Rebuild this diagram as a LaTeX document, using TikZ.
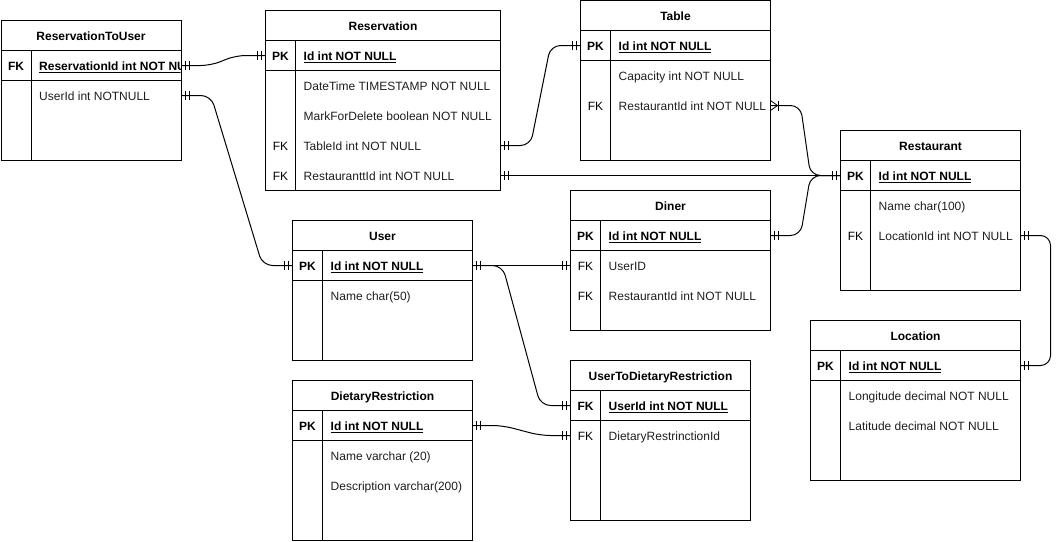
\documentclass[tikz,border=0pt]{standalone}
\usepackage{fontspec}
\setmainfont{Liberation Sans}
\usetikzlibrary{decorations.markings}
\tikzset{
  ln/.style={line width=1pt, black},
  frame/.style={draw, line width=1pt, inner sep=0pt, outer sep=0pt, anchor=north west},
  cell/.style={inner sep=0pt, outer sep=0pt, minimum height=30pt, anchor=north west},
  hdrtxt/.style={font=\fontsize{12}{14}\selectfont\bfseries, anchor=base, inner sep=0pt},
  keybold/.style={font=\fontsize{12}{14}\selectfont\bfseries, anchor=base, inner sep=0pt},
  keyplain/.style={font=\fontsize{12}{14}\selectfont, anchor=base, inner sep=0pt},
  fldbold/.style={font=\fontsize{12}{14}\selectfont\bfseries, anchor=base west, inner sep=0pt},
  fldplain/.style={font=\fontsize{12}{14}\selectfont, anchor=base west, inner sep=0pt, text=black!88},
  conn/.style={line width=1pt, rounded corners=10pt},
  onebar/.style={line width=1pt, sharp corners},
  startone/.style={postaction={decorate, decoration={markings,
      mark=at position 4pt with {\draw[onebar] (0,-4.5pt) -- (0,4.5pt);},
      mark=at position 8pt with {\draw[onebar] (0,-4.5pt) -- (0,4.5pt);}}}},
  endone/.style={postaction={decorate, decoration={markings,
      mark=at position -4pt with {\draw[onebar] (0,-4.5pt) -- (0,4.5pt);},
      mark=at position -8pt with {\draw[onebar] (0,-4.5pt) -- (0,4.5pt);}}}},
  startmany/.style={postaction={decorate, decoration={markings,
      mark=at position 1pt with {\draw[onebar, line width=0.8pt] (-1pt,5pt) -- (6pt,0pt) -- (-1pt,-5pt);},
      mark=at position 8pt with {\draw[onebar] (0,-5pt) -- (0,5pt);}}}},
}
% table frame: name, x, y, w, h, title
\newcommand\ertable[6]{%
  \node[frame, minimum width=#4, minimum height=#5] (#1) at (#2,#3) {};
  \draw[ln] (#2,#3+30) -- ++(#4,0) (#2,#3+60) -- ++(#4,0) (#2+30,#3+30) -- (#2+30,#3+#5);
  \node[hdrtxt] (#1-title) at (#2+#4/2,#3+20) {#6};
}
% key row: name, x, ytop, w, key, text
\newcommand\keyrow[6]{%
  \node[cell, minimum width=#4] (#1) at (#2,#3) {};
  \node[keybold] (#1-k) at (#2+15,#3+20) {#5};
  \node[fldbold] (#1-t) at (#2+38,#3+20) {\underline{#6}};
}
% plain row: name, x, ytop, w, key, text
\newcommand\plainrow[6]{%
  \node[cell, minimum width=#4] (#1) at (#2,#3) {};
  \node[keyplain] (#1-k) at (#2+15,#3+20) {#5};
  \node[fldplain] (#1-t) at (#2+38,#3+20) {#6};
}
\newcommand\erlink[3]{%
  \draw[conn, #3] (#1.east) -- ++(30,0) -- ([xshift=-30pt]#2.west) -- (#2.west);
}
\begin{document}
\begin{tikzpicture}[x=1pt, y=-1pt]
\useasboundingbox[fill=white] (0,0) rectangle (1060,541);

% ReservationToUser
\ertable{rtu}{1}{20.5}{180}{140}{ReservationToUser}
\begin{scope}
  \clip (1,50.5) rectangle (180.5,80.5);
  \keyrow{rturesid}{1}{50.5}{180}{FK}{ReservationId int NOT NULL}
\end{scope}
\plainrow{rtuuserid}{1}{80.5}{180}{}{UserId int NOTNULL}

% Reservation
\ertable{res}{265.5}{10.5}{235}{180}{Reservation}
\keyrow{resid}{265.5}{40.5}{235}{PK}{Id int NOT NULL}
\plainrow{resdate}{265.5}{70.5}{235}{}{DateTime TIMESTAMP NOT NULL}
\plainrow{resmark}{265.5}{100.5}{235}{}{MarkForDelete boolean NOT NULL}
\plainrow{restab}{265.5}{130.5}{235}{FK}{TableId int NOT NULL}
\plainrow{resrest}{265.5}{160.5}{235}{FK}{RestauranttId int NOT NULL}

% Table
\ertable{tab}{580.5}{0.5}{190}{160}{Table}
\keyrow{tabid}{580.5}{30.5}{190}{PK}{Id int NOT NULL}
\plainrow{tabcap}{580.5}{60.5}{190}{}{Capacity int NOT NULL}
\plainrow{tabrest}{580.5}{90.5}{190}{FK}{RestaurantId int NOT NULL}

% Restaurant
\ertable{rest}{840.5}{130.5}{180}{160}{Restaurant}
\keyrow{restid}{840.5}{160.5}{180}{PK}{Id int NOT NULL}
\plainrow{restname}{840.5}{190.5}{180}{}{Name char(100)}
\plainrow{restloc}{840.5}{220.5}{180}{FK}{LocationId int NOT NULL}

% Diner
\ertable{din}{570.5}{190.5}{200}{140}{Diner}
\keyrow{dinid}{570.5}{220.5}{200}{PK}{Id int NOT NULL}
\plainrow{dinuser}{570.5}{250.5}{200}{FK}{UserID}
\plainrow{dinrest}{570.5}{280.5}{200}{FK}{RestaurantId int NOT NULL}

% User
\ertable{usr}{292.5}{220.5}{180}{140}{User}
\keyrow{usrid}{292.5}{250.5}{180}{PK}{Id int NOT NULL}
\plainrow{usrname}{292.5}{280.5}{180}{}{Name char(50)}

% DietaryRestriction
\ertable{dr}{292.5}{380.5}{180}{160}{DietaryRestriction}
\keyrow{drid}{292.5}{410.5}{180}{PK}{Id int NOT NULL}
\plainrow{drname}{292.5}{440.5}{180}{}{Name varchar (20)}
\plainrow{drdesc}{292.5}{470.5}{180}{}{Description varchar(200)}

% UserToDietaryRestriction
\ertable{utdr}{570.5}{360.5}{180}{160}{UserToDietaryRestriction}
\keyrow{utdruser}{570.5}{390.5}{180}{FK}{UserId int NOT NULL}
\plainrow{utdrdr}{570.5}{420.5}{180}{FK}{DietaryRestrinctionId}

% Location
\ertable{loc}{810.5}{320.5}{210}{160}{Location}
\keyrow{locid}{810.5}{350.5}{210}{PK}{Id int NOT NULL}
\plainrow{loclon}{810.5}{380.5}{210}{}{Longitude decimal NOT NULL}
\plainrow{loclat}{810.5}{410.5}{210}{}{Latitude decimal NOT NULL}

% connectors
\erlink{rturesid}{resid}{startone,endone}
\erlink{rtuuserid}{usrid}{startone,endone}
\erlink{restab}{tabid}{startone,endone}
\draw[conn, startone, endone] (resrest.east) -- (restid.west);
\erlink{tabrest}{restid}{startmany,endone}
\erlink{dinid}{restid}{startone,endone}
\draw[conn, startone, endone] (restloc.east) -- ++(30,0) -- ([xshift=30pt]locid.east) -- (locid.east);
\draw[conn, startone, endone] (usrid.east) -- (dinuser.west);
\erlink{usrid}{utdruser}{startone,endone}
\erlink{drid}{utdrdr}{startone,endone}
\end{tikzpicture}
\end{document}
